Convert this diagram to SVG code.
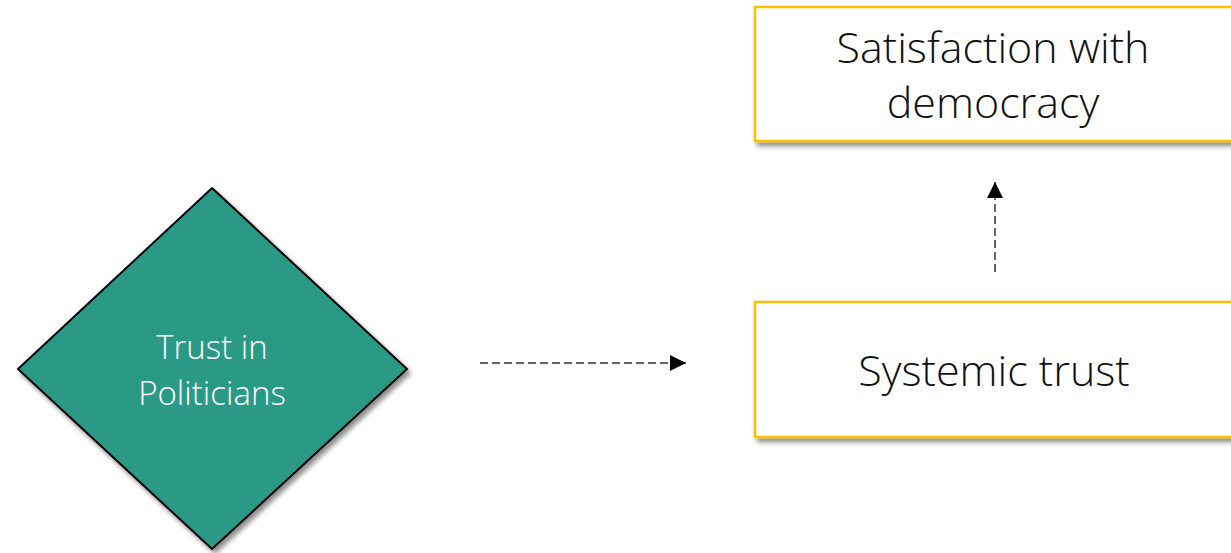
<svg xmlns="http://www.w3.org/2000/svg" width="1231" height="553" viewBox="0 0 1231 553">
  <style>
    .box { fill: #ffffff; stroke: #ffc000; stroke-width: 2.5; filter: url(#shadow); }
    .diamond { fill: #2a9a87; stroke: #000000; stroke-width: 2; filter: url(#shadow); }
    .boxText { font-family: "Open Sans", "Liberation Sans", sans-serif; font-weight: 300; font-size: 43px; fill: #111111; text-anchor: middle; }
    .diaText { font-family: "Open Sans", "Liberation Sans", sans-serif; font-weight: 300; font-size: 33px; fill: #ffffff; text-anchor: middle; }
    .link { fill: none; stroke: #333333; stroke-width: 1.5; stroke-dasharray: 8 4; }
  </style>
  <defs>
    <filter id="shadow" x="-10%" y="-10%" width="125%" height="125%">
      <feGaussianBlur in="SourceAlpha" stdDeviation="2.5"/>
      <feOffset dx="3" dy="4" result="blur"/>
      <feComponentTransfer><feFuncA type="linear" slope="0.45"/></feComponentTransfer>
      <feMerge><feMergeNode/><feMergeNode in="SourceGraphic"/></feMerge>
    </filter>
    <marker id="arrowBig" viewBox="0 0 16 16" refX="16" refY="8" markerWidth="16" markerHeight="16" markerUnits="userSpaceOnUse" orient="auto">
      <path d="M0,0 L16,8 L0,16 Z" fill="#000000"/>
    </marker>
  </defs>

  <rect width="1231" height="553" fill="#ffffff"/>

  <g id="node-trust-politicians">
    <polygon class="diamond" points="212,188 407,369 212,549 18,369"/>
    <text class="diaText" x="212" y="359">Trust in</text>
    <text class="diaText" x="212" y="405">Politicians</text>
  </g>

  <g id="node-satisfaction">
    <rect class="box" x="755" y="7" width="480" height="134"/>
    <text class="boxText" x="993" y="63">Satisfaction with</text>
    <text class="boxText" x="993" y="118">democracy</text>
  </g>

  <g id="node-systemic-trust">
    <rect class="box" x="755" y="302" width="480" height="135"/>
    <text class="boxText" x="994" y="386">Systemic trust</text>
  </g>

  <g id="connectors">
    <line class="link" x1="480" y1="363" x2="686" y2="363" marker-end="url(#arrowBig)"/>
    <line class="link" x1="995" y1="272" x2="995" y2="182" marker-end="url(#arrowBig)"/>
  </g>
</svg>
